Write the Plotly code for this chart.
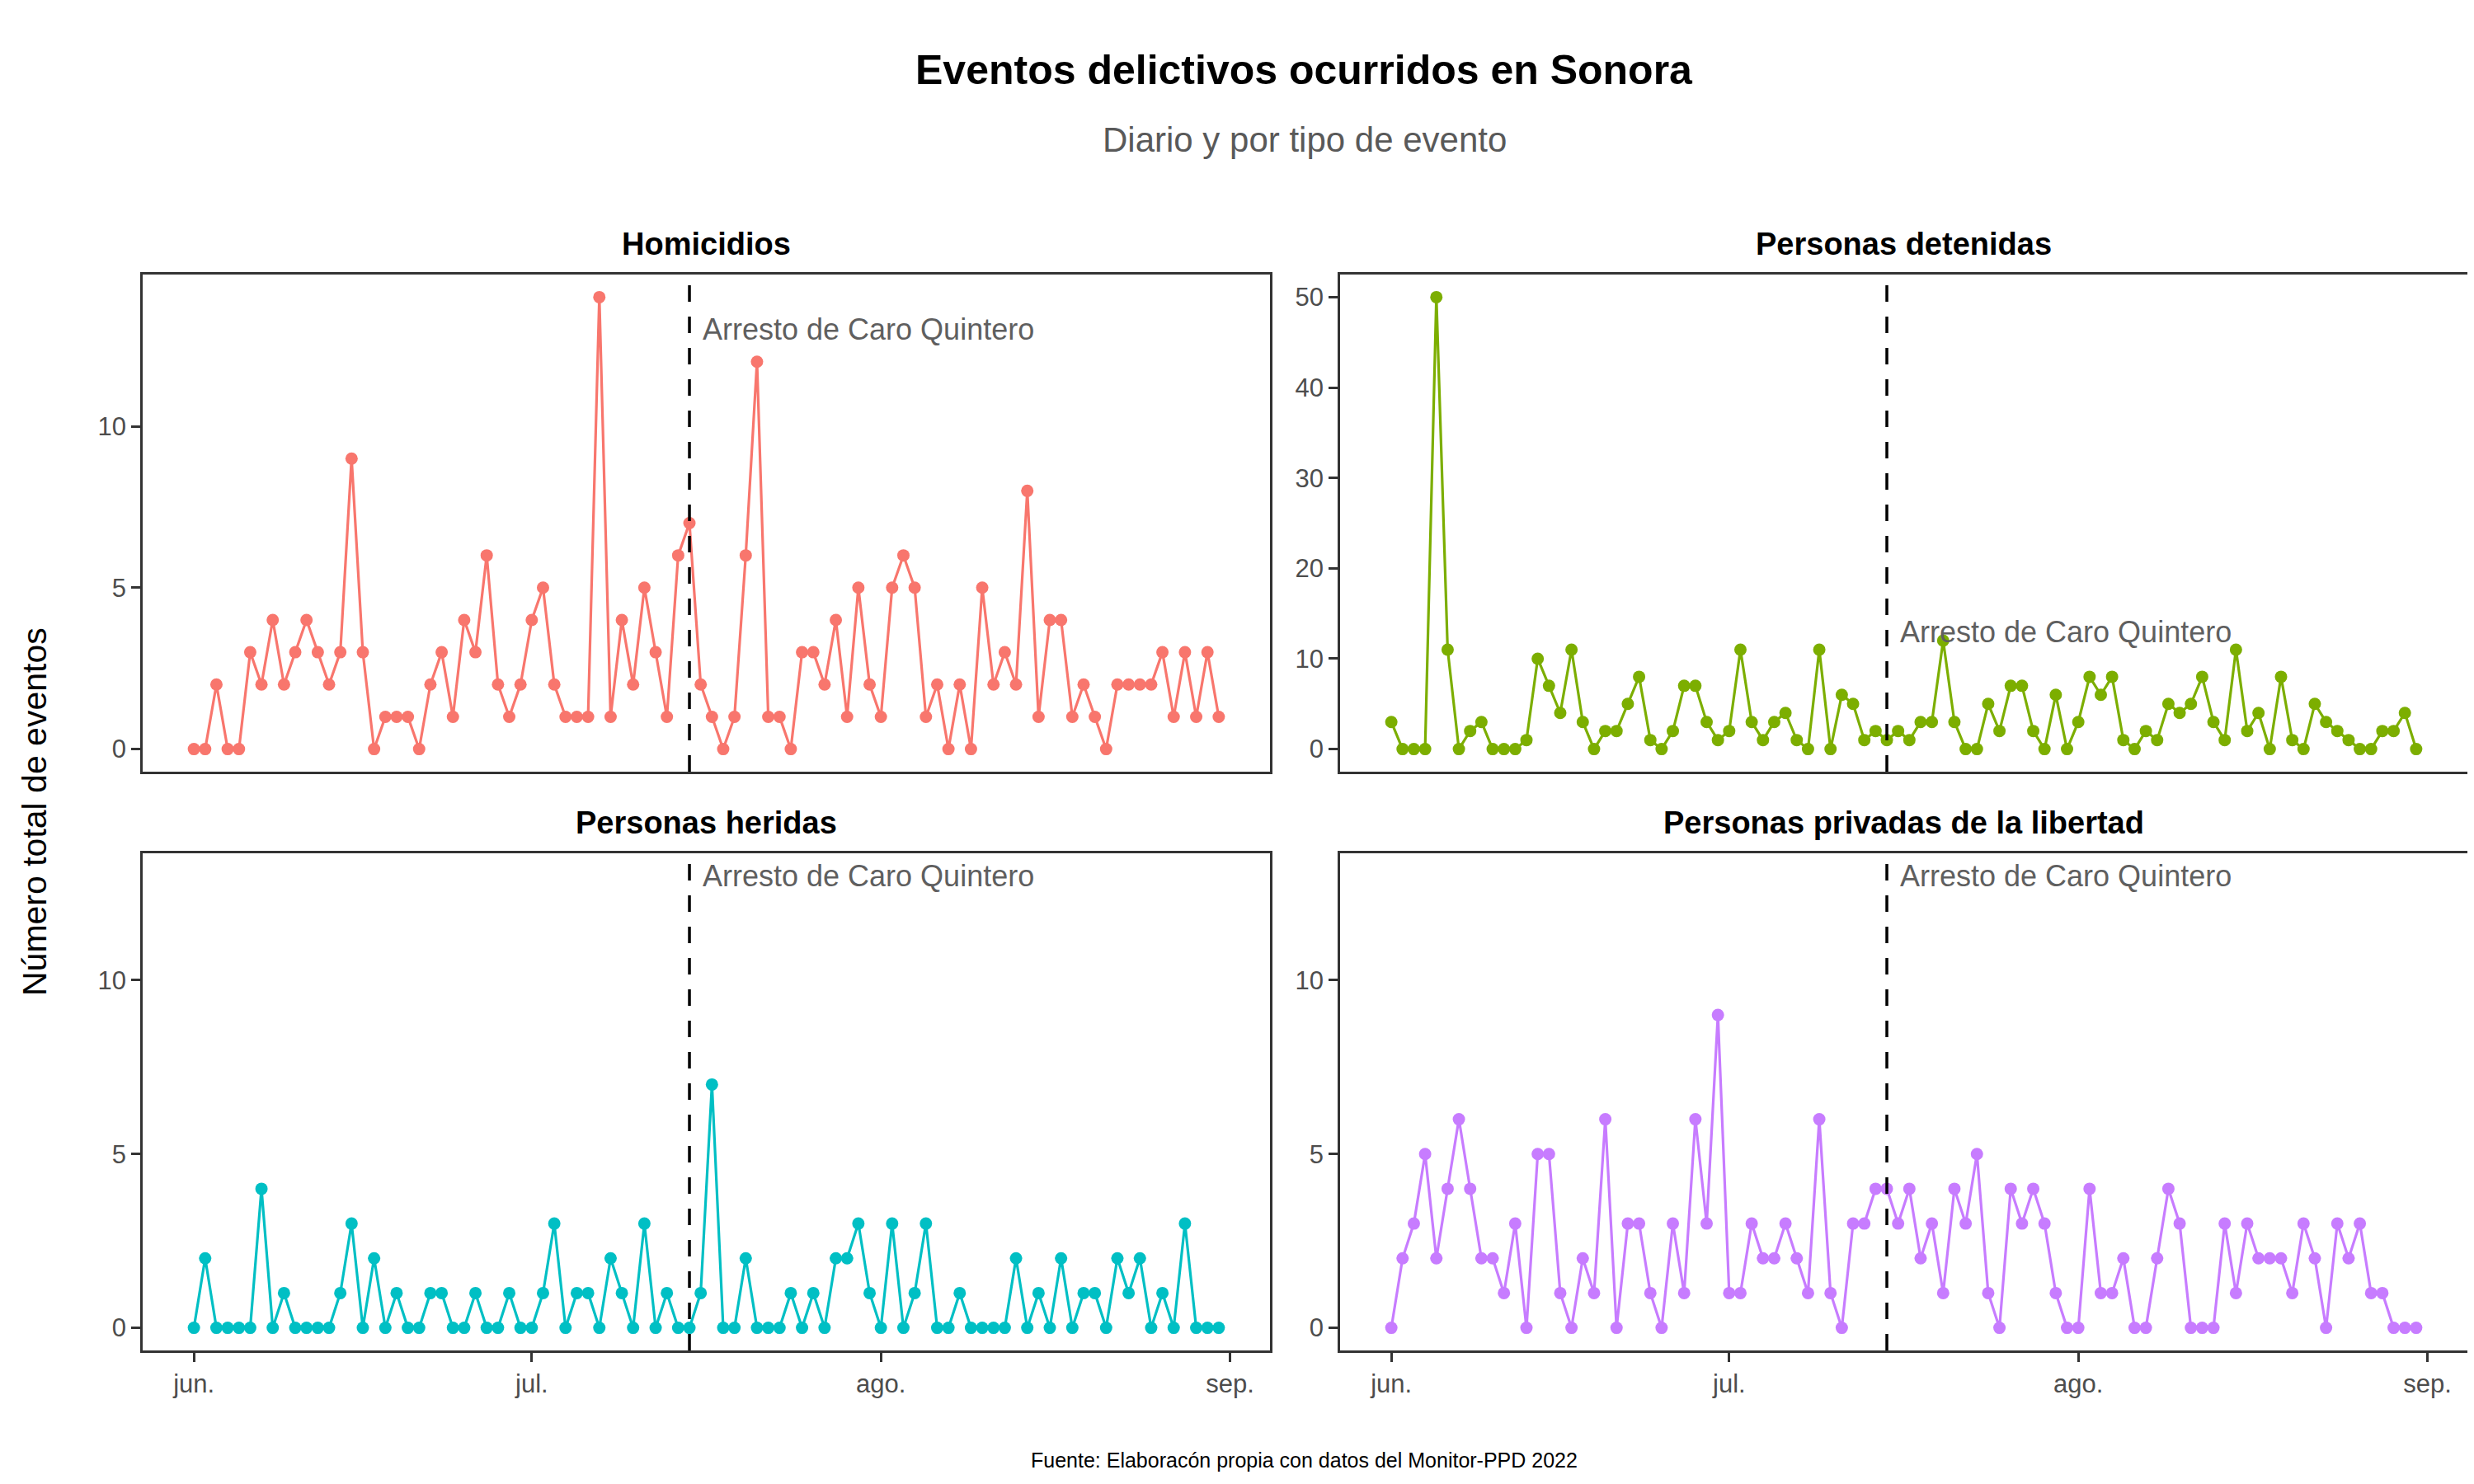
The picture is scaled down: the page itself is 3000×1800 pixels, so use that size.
import pandas as pd
import plotly.graph_objects as go

# datos diarios, 1 jun - 31 ago 2022
fechas = pd.date_range("2022-06-01", "2022-08-31", freq="D")

homicidios = [0, 0, 2, 0, 0, 3, 2, 4, 2, 3, 4, 3, 2, 3, 9, 3, 0, 1, 1, 1, 0, 2, 3, 1, 4, 3, 6, 2, 1, 2,
              4, 5, 2, 1, 1, 1, 14, 1, 4, 2, 5, 3, 1, 6, 7,
              2, 1, 0, 1, 6, 12, 1, 1, 0, 3, 3, 2, 4, 1, 5, 2, 1, 5, 6, 5, 1, 2, 0, 2, 0, 5, 2, 3, 2, 8,
              1, 4, 4, 1, 2, 1, 0, 2, 2, 2, 2, 3, 1, 3, 1, 3, 1]
detenidas = [3, 0, 0, 0, 50, 11, 0, 2, 3, 0, 0, 0, 1, 10, 7, 4, 11, 3, 0, 2, 2, 5, 8, 1, 0, 2, 7, 7, 3, 1,
             2, 11, 3, 1, 3, 4, 1, 0, 11, 0, 6, 5, 1, 2, 1,
             2, 1, 3, 3, 12, 3, 0, 0, 5, 2, 7, 7, 2, 0, 6, 0, 3, 8, 6, 8, 1, 0, 2, 1, 5, 4, 5, 8, 3, 1,
             11, 2, 4, 0, 8, 1, 0, 5, 3, 2, 1, 0, 0, 2, 2, 4, 0]
heridas = [0, 2, 0, 0, 0, 0, 4, 0, 1, 0, 0, 0, 0, 1, 3, 0, 2, 0, 1, 0, 0, 1, 1, 0, 0, 1, 0, 0, 1, 0,
           0, 1, 3, 0, 1, 1, 0, 2, 1, 0, 3, 0, 1, 0, 0,
           1, 7, 0, 0, 2, 0, 0, 0, 1, 0, 1, 0, 2, 2, 3, 1, 0, 3, 0, 1, 3, 0, 0, 1, 0, 0, 0, 0, 2, 0,
           1, 0, 2, 0, 1, 1, 0, 2, 1, 2, 0, 1, 0, 3, 0, 0, 0]
privadas = [0, 2, 3, 5, 2, 4, 6, 4, 2, 2, 1, 3, 0, 5, 5, 1, 0, 2, 1, 6, 0, 3, 3, 1, 0, 3, 1, 6, 3, 9,
            1, 1, 3, 2, 2, 3, 2, 1, 6, 1, 0, 3, 3, 4, 4,
            3, 4, 2, 3, 1, 4, 3, 5, 1, 0, 4, 3, 4, 3, 1, 0, 0, 4, 1, 1, 2, 0, 0, 2, 4, 3, 0, 0, 0, 3,
            1, 3, 2, 2, 2, 1, 3, 2, 0, 3, 2, 3, 1, 1, 0, 0, 0]

paneles = ["Homicidios", "Personas detenidas", "Personas heridas", "Personas privadas de la libertad"]
series = [homicidios, detenidas, heridas, privadas]
colores = ["#F8766D", "#7CAE00", "#00BFC4", "#C77CFF"]
yticks = [[0, 5, 10], [0, 10, 20, 30, 40, 50], [0, 5, 10], [0, 5, 10]]

xtick_vals = ["2022-06-01", "2022-07-01", "2022-08-01", "2022-09-01"]
xtick_text = ["jun.", "jul.", "ago.", "sep."]

arresto = pd.Timestamp("2022-07-15")
texto_arresto = "Arresto de Caro Quintero"
y_texto = 13

W, H = 3000, 1800
OFF = 8  # margen del <body> en la pagina
FONT = "Liberation Sans, Arial, sans-serif"


def px(v):
    return v - OFF


# dominios de cada panel (px en la imagen)
xdom = [(173, 1540), (1625, 2992)]
ydom = [(333, 936), (1035, 1638)]

span = (fechas[-1] - fechas[0]) * 0.05
xr = [fechas[0] - span, fechas[-1] + span]

eje = dict(showgrid=False, zeroline=False, showline=True, linecolor="#333333",
           linewidth=2.7, mirror=True, tickcolor="#333333", tickwidth=3, ticklen=11,
           tickfont=dict(size=31, color="#4D4D4D", family=FONT))

fig = go.Figure()

for i, (nombre, vals, col) in enumerate(zip(paneles, series, colores)):
    fila, colum = divmod(i, 2)
    n = "" if i == 0 else str(i + 1)
    fig.add_trace(go.Scatter(
        x=fechas, y=vals, mode="lines+markers",
        line=dict(color=col, width=3.2),
        marker=dict(color=col, size=15),
        xaxis="x" + n, yaxis="y" + n, showlegend=False,
    ))

    top = max(max(vals), y_texto)
    yr = [-0.05 * top, top * 1.05]

    x0, x1 = xdom[colum]
    y0, y1 = ydom[fila]
    abajo = fila == 1
    fig.update_layout(**{
        "xaxis" + n: dict(
            eje, domain=[px(x0) / W, px(x1) / W], anchor="y" + n, range=xr,
            tickvals=xtick_vals if abajo else [], ticktext=xtick_text if abajo else [],
            showticklabels=abajo, ticks="outside" if abajo else "",
        ),
        "yaxis" + n: dict(
            eje, domain=[1 - px(y1) / H, 1 - px(y0) / H], anchor="x" + n, range=yr,
            tickvals=yticks[i], ticks="outside",
        ),
    })

    fig.add_shape(type="line", xref="x" + n, yref="y" + n + " domain",
                  x0=arresto, x1=arresto, y0=0, y1=1,
                  line=dict(color="black", width=3.5, dash="20px,18px"))
    fig.add_annotation(xref="x" + n, yref="y" + n, x=arresto + pd.Timedelta(days=1), y=y_texto,
                       text=texto_arresto, showarrow=False, xanchor="left", yanchor="middle",
                       font=dict(size=36, color="#5F5F5F", family=FONT))

    # titulo del panel
    fig.add_annotation(xref="paper", yref="paper", x=px((x0 + x1) / 2) / W, y=1 - px(y0 - 37) / H,
                       text="<b>" + nombre + "</b>", showarrow=False,
                       xanchor="center", yanchor="middle",
                       font=dict(size=38, color="black", family=FONT))

cx = px(1582) / W
fig.add_annotation(xref="paper", yref="paper", x=cx, y=1 - px(85) / H,
                   text="<b>Eventos delictivos ocurridos en Sonora</b>", showarrow=False,
                   xanchor="center", yanchor="middle", font=dict(size=50, color="black", family=FONT))
fig.add_annotation(xref="paper", yref="paper", x=cx, y=1 - px(170) / H,
                   text="Diario y por tipo de evento", showarrow=False,
                   xanchor="center", yanchor="middle", font=dict(size=42, color="#595959", family=FONT))
fig.add_annotation(xref="paper", yref="paper", x=px(42) / W, y=1 - px(985) / H,
                   text="Número total de eventos", showarrow=False, textangle=-90,
                   xanchor="center", yanchor="middle", font=dict(size=41, color="black", family=FONT))
fig.add_annotation(xref="paper", yref="paper", x=cx, y=1 - px(1771) / H,
                   text="Fuente: Elaboracón propia con datos del Monitor-PPD 2022", showarrow=False,
                   xanchor="center", yanchor="middle", font=dict(size=25, color="black", family=FONT))

fig.update_layout(
    width=W, height=H,
    margin=dict(l=0, r=0, t=0, b=0),
    paper_bgcolor="white", plot_bgcolor="white",
    font=dict(family=FONT),
)

fig.write_html("out.html")
